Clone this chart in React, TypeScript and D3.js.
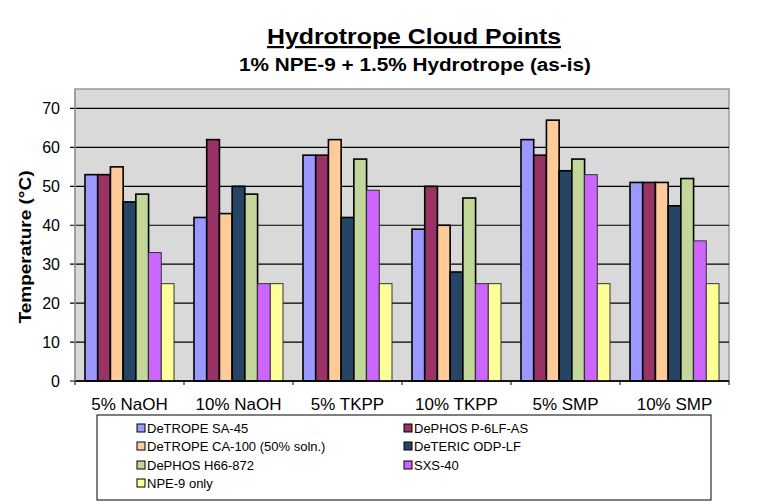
import React from "react";
import * as d3 from "d3";

const categories = ["5% NaOH", "10% NaOH", "5% TKPP", "10% TKPP", "5% SMP", "10% SMP"];
const seriesNames = [
  "DeTROPE SA-45",
  "DePHOS P-6LF-AS",
  "DeTROPE CA-100 (50% soln.)",
  "DeTERIC ODP-LF",
  "DePHOS H66-872",
  "SXS-40",
  "NPE-9 only",
];
const seriesColors = ["#9999FF", "#993366", "#FFCC99", "#254466", "#C4D79B", "#CC66FF", "#FFFF99"];
const sa45 = [53, 42, 58, 39, 62, 51];
const p6lf = [53, 62, 58, 50, 58, 51];
const ca100 = [55, 43, 62, 40, 67, 51];
const odp = [46, 50, 42, 28, 54, 45];
const h66 = [48, 48, 57, 47, 57, 52];
const sxs = [33, 25, 49, 25, 53, 36];
const npe = [25, 25, 25, 25, 25, 25];
const seriesValues = [sa45, p6lf, ca100, odp, h66, sxs, npe];
const yTicks = [0, 10, 20, 30, 40, 50, 60, 70];

const W = 767;
const H = 502;
const L = 75, R = 729, T = 89, B = 381;
const FONT = "Arial, 'Liberation Sans', sans-serif";

export default function App() {
  const x0 = d3.scaleBand<string>().domain(categories).range([L, R]).padding(0);
  const bw = x0.bandwidth();
  const pad = 10;
  const x1 = d3.scaleBand<number>().domain(d3.range(seriesNames.length)).range([pad, bw - pad]).padding(0);
  const y = d3.scaleLinear().domain([0, 75]).range([B, T]);

  const legendRows = [
    [0, 1],
    [2, 3],
    [4, 5],
    [6],
  ];
  const legRowY = [428, 446, 465, 483];
  const legColX = [143, 410];

  return (
    <svg width={W} height={H} style={{ position: "absolute", left: 0, top: 0 }} fontFamily={FONT}>
      <rect x={0} y={0} width={W} height={H} fill="#fff" />
      <text x={414} y={44} textAnchor="middle" fontSize={22} fontWeight="bold" textDecoration="underline"
        textLength={294} lengthAdjust="spacingAndGlyphs">
        Hydrotrope Cloud Points
      </text>
      <text x={415} y={71} textAnchor="middle" fontSize={18} fontWeight="bold"
        textLength={352} lengthAdjust="spacingAndGlyphs">
        1%  NPE-9 + 1.5%  Hydrotrope  (as-is)
      </text>
      <rect x={L} y={T} width={R - L} height={B - T} fill="#D9D9D9" stroke="#9a9a9a" strokeWidth={1.5} />
      {yTicks.map((t) => (
        <g key={t}>
          <line x1={L - 5} x2={R} y1={y(t)} y2={y(t)} stroke="#000" strokeWidth={1.2} />
          <text x={60} y={y(t)} textAnchor="end" dominantBaseline="central" fontSize={16}>
            {t}
          </text>
        </g>
      ))}
      {categories.map((c, ci) => (
        <g key={c}>
          {seriesValues.map((vals, si) => (
            <rect
              key={si}
              x={(x0(c) as number) + (x1(si) as number)}
              y={y(vals[ci])}
              width={x1.bandwidth()}
              height={y(0) - y(vals[ci])}
              fill={seriesColors[si]}
              stroke={si >= 5 ? "#333" : "#000"}
              strokeWidth={si >= 5 ? 1 : 1.6}
            />
          ))}
          <text x={(x0(c) as number) + bw / 2} y={404} textAnchor="middle" dominantBaseline="central" fontSize={17}>
            {c}
          </text>
        </g>
      ))}
      <line x1={L} x2={R} y1={B} y2={B} stroke="#000" strokeWidth={1.5} />
      <line x1={L} x2={L} y1={T} y2={B} stroke="#9a9a9a" strokeWidth={1.5} />
      {categories.concat([""]).map((c, i) => {
        const xx = L + i * bw;
        return <line key={i} x1={xx} x2={xx} y1={B} y2={B + 4} stroke="#000" strokeWidth={1} />;
      })}
      <text
        transform={`translate(25,247) rotate(-90)`}
        textAnchor="middle"
        dominantBaseline="central"
        fontSize={17}
        fontWeight="bold"
        textLength={153}
        lengthAdjust="spacingAndGlyphs"
      >
        Temperature (°C)
      </text>
      <rect x={97} y={415} width={614} height={85} fill="#fff" stroke="#000" strokeWidth={1} />
      {legendRows.map((row, ri) =>
        row.map((si, ci) => (
          <g key={si}>
            <rect x={legColX[ci] - 6} y={legRowY[ri] - 4} width={8} height={8} fill={seriesColors[si]} stroke="#000" strokeWidth={1} />
            <text x={legColX[ci] + 4} y={legRowY[ri]} dominantBaseline="central" fontSize={13}>
              {seriesNames[si]}
            </text>
          </g>
        ))
      )}
    </svg>
  );
}
